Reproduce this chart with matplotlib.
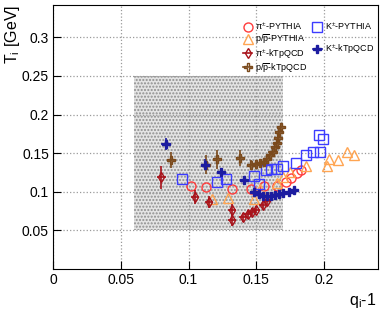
import numpy as np
import matplotlib
matplotlib.use("Agg")
import matplotlib.pyplot as plt
from matplotlib.lines import Line2D
from matplotlib.patches import Rectangle

plt.rcParams['font.family'] = ['Liberation Sans', 'DejaVu Sans']
plt.rcParams['mathtext.fontset'] = 'custom'
plt.rcParams['mathtext.rm'] = 'Liberation Sans'
plt.rcParams['mathtext.it'] = 'Liberation Sans'
plt.rcParams['hatch.linewidth'] = 1.0

# pi+- PYTHIA
pi_py_q = [0.102, 0.113, 0.132, 0.146, 0.156, 0.165, 0.172, 0.176, 0.180, 0.183]
pi_py_T = [0.108, 0.106, 0.104, 0.103, 0.107, 0.108, 0.113, 0.118, 0.124, 0.128]

# p/pbar PYTHIA
p_py_q = [0.117, 0.129, 0.148, 0.153, 0.165, 0.170, 0.175, 0.187, 0.202, 0.204, 0.210, 0.217, 0.222]
p_py_T = [0.090, 0.092, 0.090, 0.103, 0.112, 0.119, 0.125, 0.134, 0.134, 0.142, 0.141, 0.151, 0.148]

# K+- PYTHIA
k_py_q = [0.095, 0.121, 0.128, 0.148, 0.152, 0.157, 0.161, 0.165, 0.170, 0.179, 0.187, 0.192, 0.197, 0.196, 0.199]
k_py_T = [0.117, 0.113, 0.116, 0.120, 0.110, 0.128, 0.129, 0.130, 0.134, 0.137, 0.147, 0.151, 0.151, 0.173, 0.169]

# pi+- kTpQCD
pi_kt_q = [0.080, 0.105, 0.115, 0.132, 0.132, 0.140, 0.144, 0.147, 0.150, 0.155, 0.158]
pi_kt_T = [0.119, 0.093, 0.087, 0.076, 0.063, 0.067, 0.071, 0.074, 0.077, 0.083, 0.088]
pi_kt_dT = [0.015, 0.009, 0.008, 0.008, 0.008, 0.006, 0.006, 0.005, 0.005, 0.005, 0.005]

# p/pbar kTpQCD
p_kt_q = [0.087, 0.113, 0.121, 0.138, 0.146, 0.150, 0.153, 0.156, 0.158, 0.160, 0.162, 0.164, 0.165, 0.166, 0.167, 0.168]
p_kt_T = [0.141, 0.135, 0.142, 0.144, 0.135, 0.136, 0.137, 0.139, 0.143, 0.147, 0.152, 0.158, 0.163, 0.170, 0.177, 0.184]
p_kt_dT = [0.010, 0.012, 0.012, 0.010, 0.006, 0.005, 0.005, 0.005, 0.005, 0.005, 0.005, 0.005, 0.005, 0.005, 0.005, 0.005]

# K+- kTpQCD
k_kt_q = [0.083, 0.112, 0.124, 0.141, 0.148, 0.152, 0.155, 0.158, 0.161, 0.164, 0.167, 0.170, 0.174, 0.178]
k_kt_T = [0.162, 0.135, 0.125, 0.115, 0.100, 0.097, 0.095, 0.094, 0.095, 0.096, 0.097, 0.099, 0.100, 0.102]
k_kt_dT = [0.008, 0.007, 0.006, 0.005, 0.004, 0.004, 0.003, 0.003, 0.003, 0.003, 0.003, 0.003, 0.003, 0.003]

box_q = (0.06, 0.17)
box_T = (0.05, 0.25)

fig = plt.figure(figsize=(3.82, 3.12), dpi=100)
ax = fig.add_axes([0.139, 0.138, 0.851, 0.846])

ax.add_patch(Rectangle((box_q[0], box_T[0]), box_q[1] - box_q[0], box_T[1] - box_T[0],
                       facecolor='#e4e4e4', edgecolor='#8e8e8e', hatch='.....', lw=0, zorder=0))

c_pi = '#ff3b3b'
c_p = '#ffa552'
c_k = '#3c3cff'
c_pikt = '#a8121a'
c_pkt = '#7b4a1c'
c_kkt = '#1c1ca0'

ax.plot(pi_py_q, pi_py_T, 'o', ms=6.5, mfc='none', mec=c_pi, mew=1.0, ls='none', zorder=3)
ax.plot(p_py_q, p_py_T, '^', ms=6.5, mfc='none', mec=c_p, mew=1.0, ls='none', zorder=3)
ax.plot(k_py_q, k_py_T, 's', ms=6.5, mfc='none', mec=c_k, mew=1.0, ls='none', zorder=3)

ax.errorbar(pi_kt_q, pi_kt_T, yerr=pi_kt_dT, xerr=0.003, fmt='d', ms=5, mfc='none', mec=c_pikt,
            ecolor=c_pikt, elinewidth=1.2, capsize=0, mew=1.0, zorder=4)
ax.errorbar(p_kt_q, p_kt_T, yerr=p_kt_dT, xerr=0.003, fmt='P', ms=5.5, mfc='none', mec=c_pkt,
            ecolor=c_pkt, elinewidth=1.2, capsize=0, mew=1.0, zorder=4)
ax.errorbar(k_kt_q, k_kt_T, yerr=k_kt_dT, xerr=0.003, fmt='P', ms=5.5, mfc=c_kkt, mec=c_kkt,
            ecolor=c_kkt, elinewidth=1.2, capsize=0, mew=1.0, zorder=4)

ax.set_xlim(0, 0.24)
ax.set_ylim(0, 0.342)
ax.set_xticks([0, 0.05, 0.1, 0.15, 0.2])
ax.set_xticklabels(['0', '0.05', '0.1', '0.15', '0.2'])
ax.set_yticks([0.05, 0.1, 0.15, 0.2, 0.25, 0.3])
ax.set_yticklabels(['0.05', '0.1', '0.15', '0.2', '0.25', '0.3'])
ax.tick_params(direction='in', length=6, labelsize=10, top=False, right=False, pad=3)
ax.grid(True, ls=':', color='#9a9a9a', lw=0.9, zorder=1)
ax.set_axisbelow(True)

fig.text(0.914, 0.038, 'q$_{\\rm i}$-1', ha='left', va='center', fontsize=11.5)
fig.text(0.008, 0.985, 'T$_{\\rm i}$ [GeV]', rotation=90, ha='left', va='top', fontsize=11.5)

blank = Line2D([], [], ls='none', marker='none')
h_pi = Line2D([], [], marker='o', ms=6.5, mfc='none', mec=c_pi, ls='none')
h_p = Line2D([], [], marker='^', ms=6.5, mfc='none', mec=c_p, ls='none')
h_k = Line2D([], [], marker='s', ms=6.5, mfc='none', mec=c_k, ls='none')
h_pikt = Line2D([], [], marker='d', ms=5, mfc='none', mec=c_pikt, color=c_pikt, lw=1.2)
h_pkt = Line2D([], [], marker='P', ms=5.5, mfc='none', mec=c_pkt, color=c_pkt, lw=1.2)
h_kkt = Line2D([], [], marker='P', ms=5.5, mfc=c_kkt, mec=c_kkt, color=c_kkt, lw=1.2)

handles = [h_pi, h_p, h_pikt, h_pkt, h_k, blank, h_kkt, blank]
labels = ['$\\pi^{\\pm}$-PYTHIA', 'p/$\\overline{\\rm p}$-PYTHIA', '$\\pi^{\\pm}$-kTpQCD',
          'p/$\\overline{\\rm p}$-kTpQCD', 'K$^{\\pm}$-PYTHIA', '', 'K$^{\\pm}$-kTpQCD', '']
ax.legend(handles, labels, ncol=2, loc='upper right', bbox_to_anchor=(1.005, 0.962), frameon=False,
          fontsize=6.5, handlelength=1.0, handletextpad=0.35, columnspacing=0.6, labelspacing=0.05,
          borderaxespad=0.2)

fig.savefig('out.png', dpi=100)
